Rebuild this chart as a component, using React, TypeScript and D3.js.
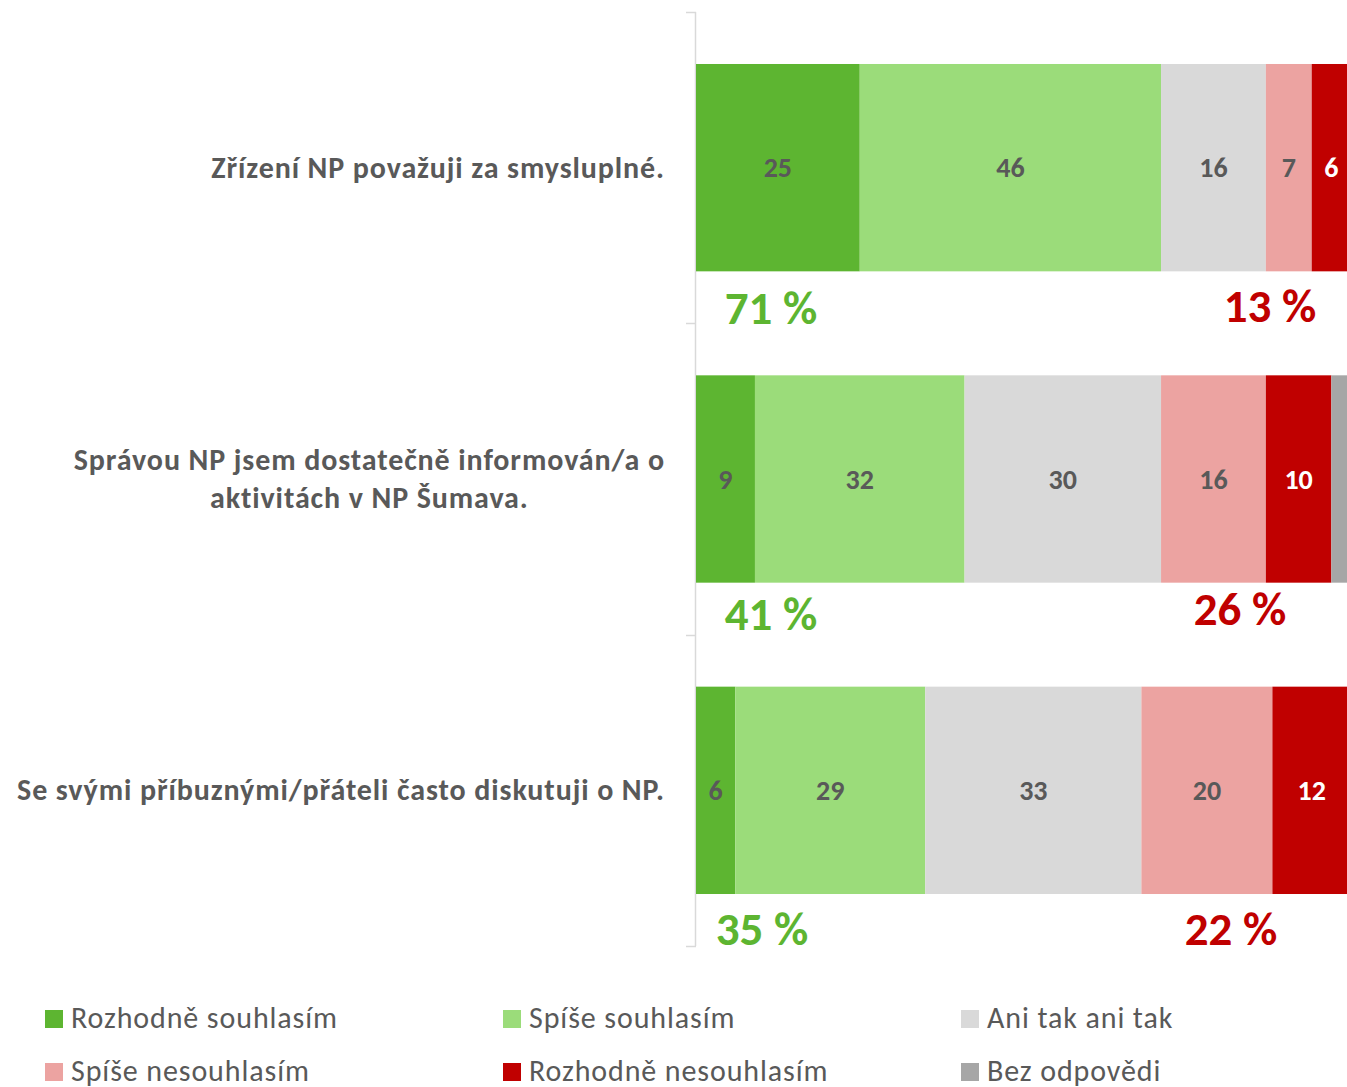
import React, { useEffect, useRef } from 'react'
import * as d3 from 'd3'

// statements (rows), top to bottom
const categories = [
  'Zřízení NP považuji za smysluplné.',
  'Správou NP jsem dostatečně informován/a o aktivitách v NP Šumava.',
  'Se svými příbuznými/přáteli často diskutuji o NP.',
]
const categoryLines = [
  ['Zřízení NP považuji za smysluplné.'],
  ['Správou NP jsem dostatečně informován/a o', 'aktivitách v NP Šumava.'],
  ['Se svými příbuznými/přáteli často diskutuji o NP.'],
]

const seriesNames = [
  'Rozhodně souhlasím',
  'Spíše souhlasím',
  'Ani tak ani tak',
  'Spíše nesouhlasím',
  'Rozhodně nesouhlasím',
  'Bez odpovědi',
]
const seriesColors = ['#5DB531', '#9BDC7A', '#D9D9D9', '#ECA3A1', '#C00000', '#A6A6A6']

// percentages per statement
const rozhodneSouhlasim = [25, 9, 6]
const spiseSouhlasim = [46, 32, 29]
const aniTakAniTak = [16, 30, 33]
const spiseNesouhlasim = [7, 16, 20]
const rozhodneNesouhlasim = [6, 10, 12]
const bezOdpovedi = [0, 3, 0]

// summary labels as printed under the bars
const agreeTotals = ['71 %', '41 %', '35 %']
const disagreeTotals = ['13 %', '26 %', '22 %']

const W = 1347
const H = 1087
const FONT = 'Carlito, Calibri, Lato, sans-serif'
const TEXT = '#595959'

const App = () => {
  const ref = useRef<SVGGElement>(null)

  useEffect(() => {
    const g = d3.select(ref.current)
    g.selectAll('*').remove()

    const series = [
      rozhodneSouhlasim,
      spiseSouhlasim,
      aniTakAniTak,
      spiseNesouhlasim,
      rozhodneNesouhlasim,
      bezOdpovedi,
    ]
    const rows = categories.map((c, i) => {
      const r: any = { cat: c }
      seriesNames.forEach((s, j) => (r[s] = series[j][i]))
      return r
    })
    const stacked = d3.stack().keys(seriesNames)(rows)

    const x = d3.scaleLinear().domain([0, 100]).range([696, 1351])
    const y = d3
      .scaleBand()
      .domain(categories)
      .range([12, 946])
      .paddingInner(0.334)
      .paddingOuter(0.167)
    const half = (y.step() * y.paddingInner()) / 2

    // axis line with ticks between categories
    const axis = g.append('g')
    axis
      .append('line')
      .attr('x1', 695.5)
      .attr('x2', 695.5)
      .attr('y1', 12)
      .attr('y2', 946)
      .attr('stroke', '#D9D9D9')
      .attr('stroke-width', 1.5)
    const bounds = categories.map((c) => y(c)! - half).concat([946])
    axis
      .selectAll('line.tick')
      .data(bounds)
      .join('line')
      .attr('class', 'tick')
      .attr('x1', 686)
      .attr('x2', 696)
      .attr('y1', (d) => Math.round(d) + 0.5)
      .attr('y2', (d) => Math.round(d) + 0.5)
      .attr('stroke', '#D9D9D9')
      .attr('stroke-width', 1.5)

    // bars
    const layers = g
      .selectAll('g.layer')
      .data(stacked)
      .join('g')
      .attr('class', 'layer')
      .attr('fill', (_, i) => seriesColors[i])
    layers
      .selectAll('rect')
      .data((d) => d)
      .join('rect')
      .attr('x', (d) => x(d[0]))
      .attr('width', (d) => x(d[1]) - x(d[0]))
      .attr('y', (d: any) => y(d.data.cat)!)
      .attr('height', y.bandwidth())

    // segment values
    layers
      .filter((_, i) => i < 5)
      .selectAll('text')
      .data((d) => d.filter((p) => p[1] - p[0] > 0))
      .join('text')
      .attr('x', (d) => (x(d[0]) + x(Math.min(d[1], 100))) / 2)
      .attr('y', (d: any) => y(d.data.cat)! + y.bandwidth() / 2)
      .attr('dy', '0.35em')
      .attr('text-anchor', 'middle')
      .attr('font-family', FONT)
      .attr('font-weight', 'bold')
      .attr('font-size', 28)
      .attr('fill', function () {
        const k = (d3.select(this.parentNode as any).datum() as any).key
        return k === 'Rozhodně nesouhlasím' ? '#FFFFFF' : TEXT
      })
      .text((d) => d3.format('d')(d[1] - d[0]))

    // category labels
    categoryLines.forEach((lines, i) => {
      const cy = y(categories[i])! + y.bandwidth() / 2
      const lh = 38
      const t = g
        .append('text')
        .attr('font-family', FONT)
        .attr('font-weight', 'bold')
        .attr('font-size', 30)
        .attr('letter-spacing', 0.9)
        .attr('fill', TEXT)
      const spans = lines.map((l, k) =>
        t
          .append('tspan')
          .attr('y', cy + 10 + (k - (lines.length - 1) / 2) * lh)
          .text(l)
      )
      const widest = d3.max(spans, (s) => (s.node() as SVGTSpanElement).getComputedTextLength()) || 0
      const mid = 665 - widest / 2
      spans.forEach((s) => s.attr('x', mid).attr('text-anchor', 'middle'))
    })

    // agree / disagree totals
    const greenCx = [771, 771, 762]
    const redCx = [1270, 1240, 1231]
    const greenDy = [53, 47, 51]
    const redDy = [51, 42, 51]
    categories.forEach((c, i) => {
      const bottom = y(c)! + y.bandwidth()
      g.append('text')
        .attr('x', greenCx[i])
        .attr('y', bottom + greenDy[i])
        .attr('text-anchor', 'middle')
        .attr('font-family', FONT)
        .attr('font-weight', 'bold')
        .attr('font-size', 47)
        .attr('fill', '#5DB531')
        .text(agreeTotals[i])
      g.append('text')
        .attr('x', redCx[i])
        .attr('y', bottom + redDy[i])
        .attr('text-anchor', 'middle')
        .attr('font-family', FONT)
        .attr('font-weight', 'bold')
        .attr('font-size', 47)
        .attr('fill', '#C00000')
        .text(disagreeTotals[i])
    })

    // legend, 3 columns x 2 rows
    const colX = [45, 503, 961]
    const rowY = [1010, 1063]
    const leg = g
      .selectAll('g.leg')
      .data(seriesNames)
      .join('g')
      .attr('class', 'leg')
      .attr('transform', (_, i) => `translate(${colX[i % 3]},${rowY[Math.floor(i / 3)]})`)
    leg
      .append('rect')
      .attr('width', 18)
      .attr('height', 18)
      .attr('fill', (_, i) => seriesColors[i])
    leg
      .append('text')
      .attr('x', 26)
      .attr('y', 18)
      .attr('font-family', FONT)
      .attr('font-size', 30)
      .attr('letter-spacing', 0.9)
      .attr('fill', TEXT)
      .text((d) => d)
  }, [])

  return (
    <svg
      width={W}
      height={H}
      style={{ position: 'absolute', left: 0, top: 0, background: '#fff' }}
    >
      <g ref={ref} />
    </svg>
  )
}

export default App
